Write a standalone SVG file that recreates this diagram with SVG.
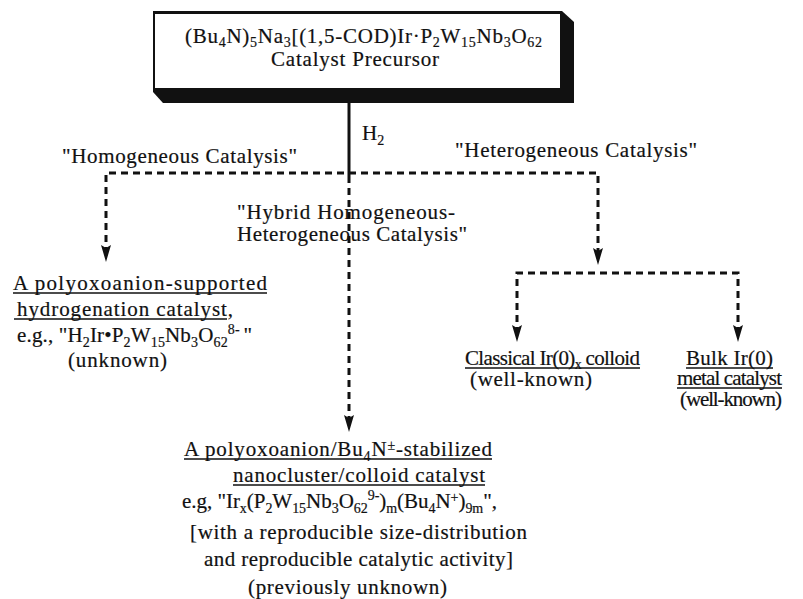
<svg xmlns="http://www.w3.org/2000/svg" width="803" height="599" viewBox="0 0 803 599">
<style>
text{font-family:"Liberation Serif","Times New Roman",serif;font-size:21px;fill:#111;stroke:#111;stroke-width:0.2;}
.sm{font-size:14px;}
.d{stroke:#111;stroke-width:3;stroke-dasharray:7 5;fill:none;}
.u{stroke:#111;stroke-width:1.5;}
.ar{stroke:none;fill:none;}
</style>
<defs>
<marker id="ah" markerUnits="userSpaceOnUse" markerWidth="17" markerHeight="10" refX="17" refY="5" orient="auto" viewBox="0 0 17 10">
<path d="M0,0 L17,5 L0,10 L3,5 Z" fill="#111"/>
</marker>
</defs>

<g id="precursor">
<path d="M153,11 L562,11 L574,22 L574,103 L163,103 L153,92 Z" fill="#111"/>
<rect x="155" y="14" width="405" height="74" fill="#fff"/>
<text x="185" y="43" textLength="357" lengthAdjust="spacing">(Bu<tspan class="sm" dy="4">4</tspan><tspan dy="-4">N)</tspan><tspan class="sm" dy="4">5</tspan><tspan dy="-4">Na</tspan><tspan class="sm" dy="4">3</tspan><tspan dy="-4">[(1,5-COD)Ir·P</tspan><tspan class="sm" dy="4">2</tspan><tspan dy="-4">W</tspan><tspan class="sm" dy="4">15</tspan><tspan dy="-4">Nb</tspan><tspan class="sm" dy="4">3</tspan><tspan dy="-4">O</tspan><tspan class="sm" dy="4">62</tspan></text>
<text x="271" y="66" textLength="168" lengthAdjust="spacing">Catalyst Precursor</text>
</g>

<g id="connectors">
<line x1="349" y1="103" x2="349" y2="176" stroke="#111" stroke-width="3"/>
<polyline class="d" points="106,254 106,173 598,173 598,257"/>
<line class="d" x1="349" y1="176" x2="349" y2="424"/>
<polyline class="d" points="517,334 517,273 738,273 738,334"/>
<line class="ar" x1="106" y1="250" x2="106" y2="262" marker-end="url(#ah)"/>
<line class="ar" x1="598" y1="253" x2="598" y2="265" marker-end="url(#ah)"/>
<line class="ar" x1="349" y1="420" x2="349" y2="432" marker-end="url(#ah)"/>
<line class="ar" x1="517" y1="330" x2="517" y2="342" marker-end="url(#ah)"/>
<line class="ar" x1="738" y1="330" x2="738" y2="342" marker-end="url(#ah)"/>
</g>

<g id="labels">
<text x="362" y="140">H<tspan class="sm" dy="5">2</tspan></text>
<text x="62" y="163" textLength="235" lengthAdjust="spacing">"Homogeneous Catalysis"</text>
<text x="455" y="157" textLength="242" lengthAdjust="spacing">"Heterogeneous Catalysis"</text>
<text x="237" y="219" textLength="218" lengthAdjust="spacing">"Hybrid Homogeneous-</text>
<text x="237" y="241" textLength="230" lengthAdjust="spacing">Heterogeneous Catalysis"</text>
</g>

<g id="homogeneous">
<text x="13" y="290" textLength="254" lengthAdjust="spacing">A polyoxoanion-supported</text>
<line class="u" x1="13" y1="293" x2="267" y2="293"/>
<text x="17" y="316" textLength="216" lengthAdjust="spacing">hydrogenation catalyst,</text>
<line class="u" x1="14" y1="319" x2="227" y2="319"/>
<text x="17" y="342" textLength="235" lengthAdjust="spacing">e.g., "H<tspan class="sm" dy="5">2</tspan><tspan dy="-5">Ir•P</tspan><tspan class="sm" dy="5">2</tspan><tspan dy="-5">W</tspan><tspan class="sm" dy="5">15</tspan><tspan dy="-5">Nb</tspan><tspan class="sm" dy="5">3</tspan><tspan dy="-5">O</tspan><tspan class="sm" dy="5">62</tspan><tspan class="sm" dy="-13">8- </tspan><tspan dy="8">"</tspan></text>
<text x="68" y="367" textLength="99" lengthAdjust="spacing">(unknown)</text>
</g>

<g id="classical">
<text x="465" y="365" textLength="175" lengthAdjust="spacing">Classical Ir(0)<tspan class="sm" dy="4">x</tspan><tspan dy="-4"> colloid</tspan></text>
<line class="u" x1="465" y1="368" x2="640" y2="368"/>
<text x="470" y="386" textLength="122" lengthAdjust="spacing">(well-known)</text>
</g>

<g id="bulk">
<text x="686" y="365" textLength="87" lengthAdjust="spacing">Bulk Ir(0)</text>
<line class="u" x1="686" y1="368" x2="773" y2="368"/>
<text x="677" y="385" textLength="105" lengthAdjust="spacing">metal catalyst</text>
<line class="u" x1="677" y1="388" x2="782" y2="388"/>
<text x="680" y="406" textLength="102" lengthAdjust="spacing">(well-known)</text>
</g>

<g id="hybrid">
<text x="184" y="456" textLength="308" lengthAdjust="spacing">A polyoxoanion/Bu<tspan class="sm" dy="5">4</tspan><tspan dy="-5">N</tspan><tspan class="sm" dy="-6">±</tspan><tspan dy="6">-stabilized</tspan></text>
<line class="u" x1="184" y1="459" x2="492" y2="459"/>
<text x="233" y="482" textLength="252" lengthAdjust="spacing">nanocluster/colloid catalyst</text>
<line class="u" x1="233" y1="485" x2="485" y2="485"/>
<text x="182" y="508" textLength="315" lengthAdjust="spacing">e.g, "Ir<tspan class="sm" dy="5">x</tspan><tspan dy="-5">(P</tspan><tspan class="sm" dy="5">2</tspan><tspan dy="-5">W</tspan><tspan class="sm" dy="5">15</tspan><tspan dy="-5">Nb</tspan><tspan class="sm" dy="5">3</tspan><tspan dy="-5">O</tspan><tspan class="sm" dy="5">62</tspan><tspan class="sm" dy="-13">9-</tspan><tspan dy="8">)</tspan><tspan class="sm" dy="5">m</tspan><tspan dy="-5">(Bu</tspan><tspan class="sm" dy="5">4</tspan><tspan dy="-5">N</tspan><tspan class="sm" dy="-6">+</tspan><tspan dy="6">)</tspan><tspan class="sm" dy="5">9m</tspan><tspan dy="-5">",</tspan></text>
<text x="190" y="539" textLength="337" lengthAdjust="spacing">[with a reproducible size-distribution</text>
<text x="204" y="566" textLength="309" lengthAdjust="spacing">and reproducible catalytic activity]</text>
<text x="248" y="594" textLength="199" lengthAdjust="spacing">(previously unknown)</text>
</g>
</svg>
